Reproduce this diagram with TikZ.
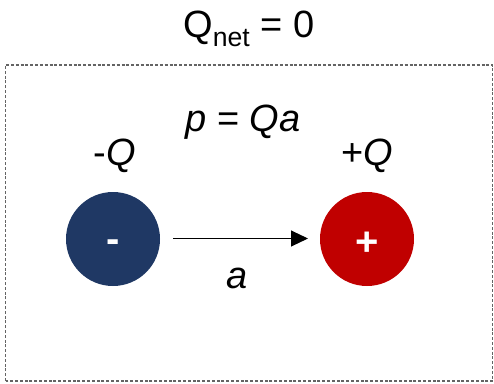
\documentclass[tikz,border=0pt]{standalone}
\usepackage{fontspec}
\setmainfont{Liberation Sans}
\usetikzlibrary{arrows.meta}
\definecolor{chargeblue}{RGB}{31,56,100}
\definecolor{chargered}{RGB}{192,0,0}
\definecolor{boxgray}{RGB}{100,100,100}
\tikzset{
  lbl/.style={inner sep=0pt, anchor=base, font=\fontsize{38}{44}\selectfont},
  charge/.style={circle, minimum size=94pt, inner sep=0pt},
  sign/.style={inner sep=0pt, text=white, font=\fontsize{40}{46}\selectfont\bfseries},
  frame/.style={draw=boxgray, line width=1.3pt, dash pattern=on 3pt off 1.8pt},
}
\begin{document}
\begin{tikzpicture}[x=1pt,y=1pt]
  \useasboundingbox (0,0) rectangle (494,383);
  % dashed enclosure
  \draw[frame] (5.5,2) rectangle (492.5,318);
  % labels
  \node[lbl] (qnet) at (249,345) {Q\textsubscript{net} = 0};
  \node[lbl] (dip) at (243,251) {\textit{p} = \textit{Qa}};
  \node[lbl] (qneg) at (115,217) {-\textit{Q}};
  \node[lbl] (qpos) at (367,217) {+\textit{Q}};
  % charges
  \node[charge, fill=chargeblue] (neg) at (113,144) {};
  \node[charge, fill=chargered] (pos) at (367,144) {};
  \node[sign] (negsign) at ([yshift=-7pt]neg.center) {-};
  \node[sign] (possign) at ([yshift=-5pt]pos.center) {+};
  % separation vector
  \coordinate (tail) at (173,144.5);
  \coordinate (head) at (308,144.5);
  \draw[line width=1pt, -{Triangle[length=17pt,width=16pt]}] (tail) -- (head);
  \node[lbl] (sep) at (237,95) {\textit{a}};
\end{tikzpicture}
\end{document}
